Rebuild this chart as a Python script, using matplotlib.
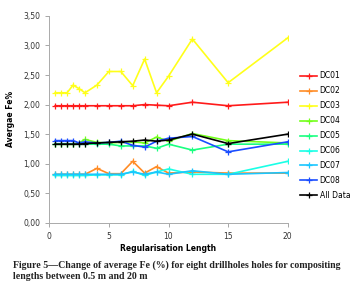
import matplotlib.pyplot as plt
from matplotlib.ticker import FuncFormatter

lengths = [0.5, 1, 1.5, 2, 2.5, 3, 4, 5, 6, 7, 8, 9, 10, 12, 15, 20]

dc01 = [1.98, 1.98, 1.98, 1.98, 1.98, 1.98, 1.98, 1.98, 1.98, 1.98, 2.00, 1.99, 1.98, 2.04, 1.98, 2.04]
dc02 = [0.82, 0.82, 0.82, 0.82, 0.82, 0.82, 0.92, 0.83, 0.83, 1.04, 0.84, 0.95, 0.84, 0.86, 0.84, 0.84]
dc03 = [2.20, 2.20, 2.20, 2.33, 2.27, 2.20, 2.33, 2.56, 2.56, 2.32, 2.77, 2.20, 2.48, 3.11, 2.37, 3.13]
dc04 = [1.33, 1.33, 1.33, 1.33, 1.35, 1.41, 1.36, 1.35, 1.36, 1.37, 1.35, 1.45, 1.38, 1.51, 1.39, 1.35]
dc05 = [1.33, 1.33, 1.33, 1.33, 1.33, 1.33, 1.33, 1.33, 1.30, 1.30, 1.30, 1.26, 1.33, 1.23, 1.33, 1.33]
dc06 = [0.80, 0.80, 0.80, 0.80, 0.80, 0.80, 0.81, 0.81, 0.81, 0.87, 0.80, 0.86, 0.91, 0.82, 0.82, 1.04]
dc07 = [0.82, 0.82, 0.82, 0.82, 0.82, 0.82, 0.82, 0.82, 0.82, 0.86, 0.82, 0.86, 0.82, 0.88, 0.82, 0.85]
dc08 = [1.39, 1.39, 1.39, 1.39, 1.35, 1.37, 1.35, 1.36, 1.38, 1.31, 1.28, 1.38, 1.43, 1.46, 1.20, 1.37]
all_data = [1.33, 1.33, 1.33, 1.33, 1.33, 1.34, 1.35, 1.36, 1.37, 1.38, 1.40, 1.38, 1.40, 1.50, 1.34, 1.50]

names = ['DC01', 'DC02', 'DC03', 'DC04', 'DC05', 'DC06', 'DC07', 'DC08', 'All Data']
series = [dc01, dc02, dc03, dc04, dc05, dc06, dc07, dc08, all_data]
colors = ['#ff1a1a', '#ff8c26', '#ffff1a', '#73ff1a', '#1aff80', '#1affe6', '#1ac6ff', '#1a4dff', '#000000']

fig = plt.figure(figsize=(3.54, 3.01), dpi=100)
ax = fig.add_axes([0.139, 0.26, 0.674, 0.687])

for vals, name, c in zip(series, names, colors):
    ax.plot(lengths, vals, color=c, linewidth=1.2, marker='+', markersize=5,
            markeredgewidth=0.9, label=name)

ax.set_xlim(0, 20)
ax.set_ylim(0, 3.5)
ax.set_xticks([0, 5, 10, 15, 20])
ax.set_yticks([0, 0.5, 1, 1.5, 2, 2.5, 3, 3.5])
ax.yaxis.set_major_formatter(FuncFormatter(lambda v, p: f'{v:.2f}'.replace('.', ',')))
ax.tick_params(labelsize=5.5, colors='#999999', labelcolor='#333333', length=3, width=0.6)
for s in ['top', 'right']:
    ax.spines[s].set_visible(False)
for s in ['left', 'bottom']:
    ax.spines[s].set_color('#aaaaaa')
    ax.spines[s].set_linewidth(0.7)

ax.set_ylabel('Avergae Fe%', fontsize=5.5, fontweight='bold', labelpad=6)
ax.set_xlabel('Regularisation Length', fontsize=5.5, fontweight='bold', labelpad=2)

fig.legend(loc='upper left', bbox_to_anchor=(0.84, 0.773), frameon=False,
           fontsize=5.5, labelspacing=0.78, handlelength=2.2, handletextpad=0.3,
           borderaxespad=0)

fig.text(0.037, 0.135, 'Figure 5\u2014Change of average Fe (%) for eight drillholes holes for compositing\nlengths between 0.5 m and 20 m',
         fontsize=7.1, fontweight='bold', family='Liberation Serif', color='#222222',
         va='top', linespacing=1.3)

fig.savefig('out.png', dpi=100)
